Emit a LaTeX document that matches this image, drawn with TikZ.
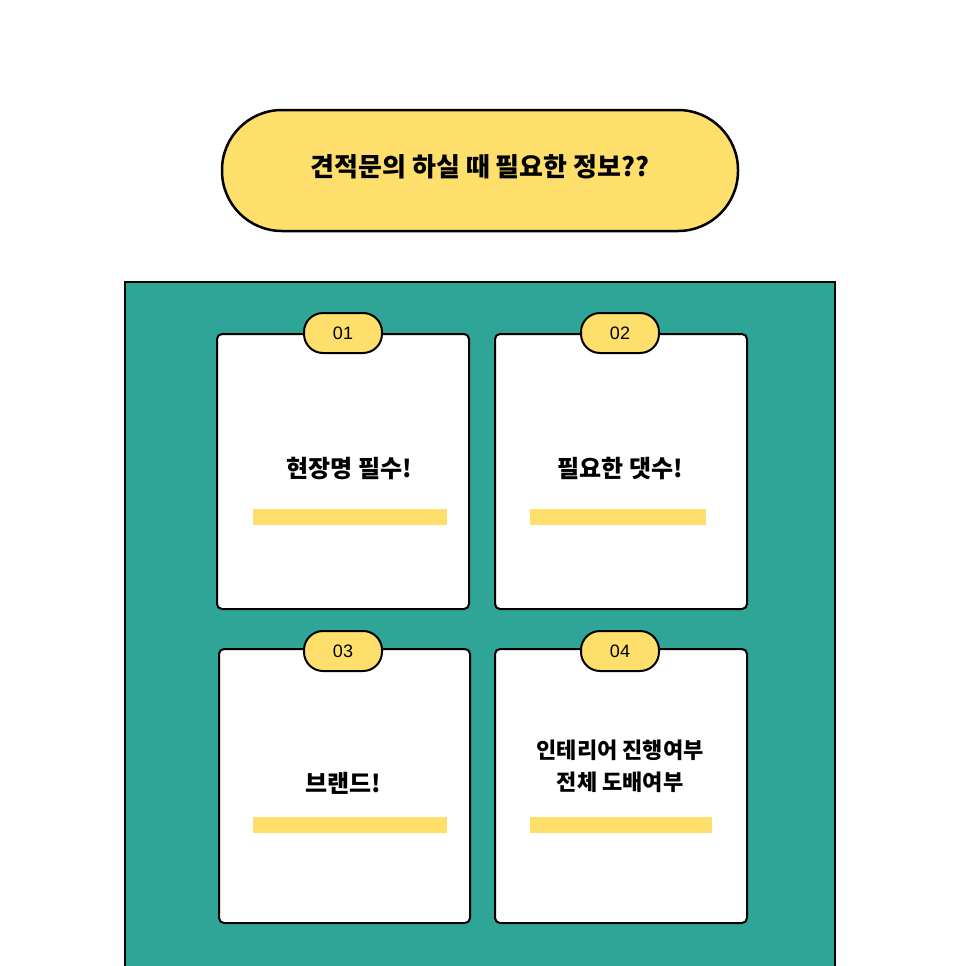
\documentclass[tikz,border=0pt]{standalone}
\usepackage{fontspec}
\setmainfont{Liberation Sans}
\newfontfamily\kr{Noto Sans CJK KR}
\definecolor{ylw}{HTML}{FFDF6B}
\definecolor{teal1}{HTML}{2EA597}
\begin{document}
\begin{tikzpicture}[x=1pt,y=-1pt,
 card/.style={draw=black,line width=2pt,fill=white,rounded corners=5pt},
 badge/.style={draw=black,line width=2pt,fill=ylw,rounded corners=19pt,minimum width=78pt,minimum height=40pt,font=\fontsize{18}{20}\selectfont},
 bar/.style={fill=ylw},
 lbl/.style={font=\kr\bfseries\fontsize{24}{32}\selectfont,align=center}]
\useasboundingbox (0,0) rectangle (966,966);
\fill[white] (0,0) rectangle (966,966);
\draw[line width=2.5pt,fill=ylw,rounded corners=60pt] (222,110) rectangle (738,231);
\node[lbl,font=\kr\bfseries\fontsize{26}{30}\selectfont] (title) at (480,167) {견적문의 하실 때 필요한 정보??};
\draw[line width=2.5pt,fill=teal1] (125,975) -- (125,282) -- (835,282) -- (835,975);
\draw[card] (217,334) rectangle (469,609);
\draw[card] (495,334) rectangle (747,609);
\draw[card] (219,649) rectangle (470,923);
\draw[card] (495,649) rectangle (747,923);
\node[badge] (b1) at (343,333) {01};
\node[badge] (b2) at (620,333) {02};
\node[badge] (b3) at (343,651) {03};
\node[badge] (b4) at (620,651) {04};
\node[lbl] (t1) at (349,468) {현장명 필수!};
\node[lbl] (t2) at (620,468) {필요한 댓수!};
\node[lbl] (t3) at (343,783) {브랜드!};
\node[lbl,font=\kr\bfseries\fontsize{22}{32}\selectfont] (t4) at (620,766) {인테리어 진행여부\\전체 도배여부};
\fill[bar] (253,509) rectangle (447,525);
\fill[bar] (530,509) rectangle (706,525);
\fill[bar] (253,817) rectangle (447,833);
\fill[bar] (530,817) rectangle (712,833);
\end{tikzpicture}
\end{document}
